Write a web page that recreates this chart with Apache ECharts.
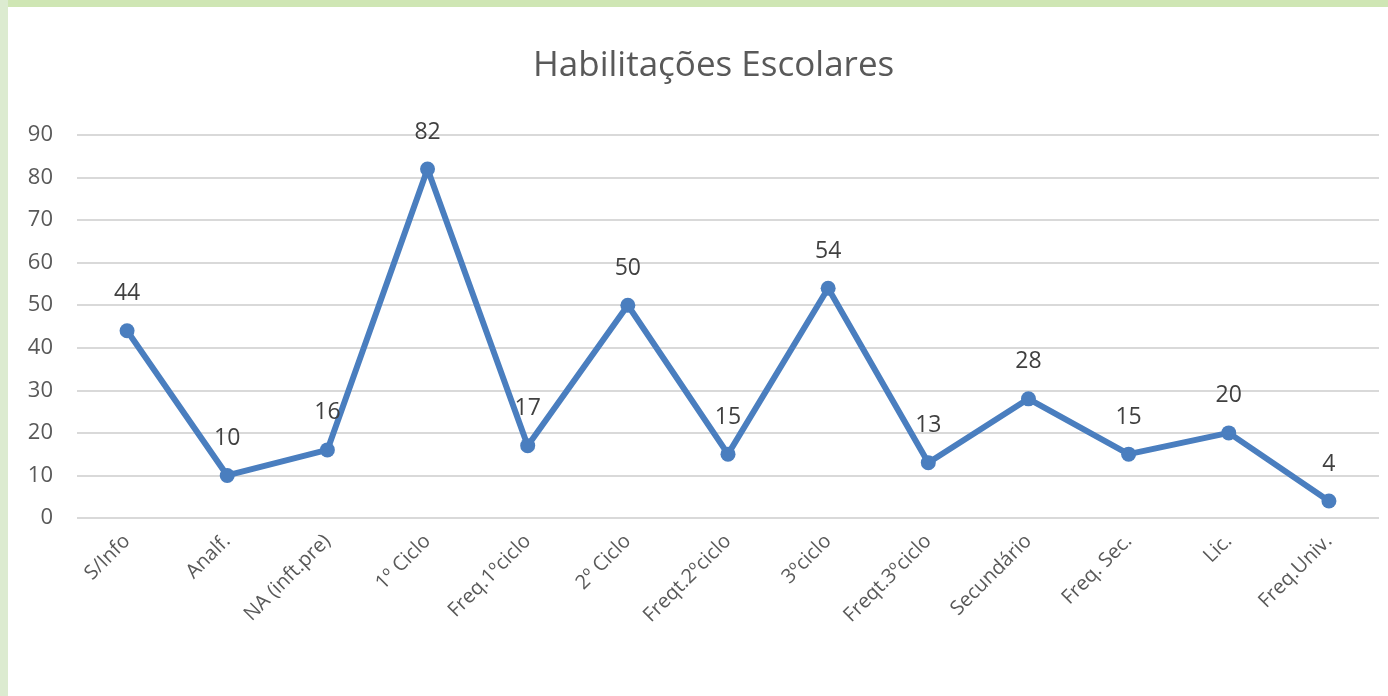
<!DOCTYPE html>
<html>
<head>
<meta charset="utf-8">
<script src="https://cdn.jsdelivr.net/npm/echarts@6/dist/echarts.min.js"></script>
<style>
  html, body { margin: 0; padding: 0; background: #fff; }
  #main { width: 1388px; height: 696px; }
</style>
</head>
<body>
<div id="main"></div>
<script>
// categorias e valores
var categorias = ['S/Info', 'Analf.', 'NA (inft.pre)', '1º Ciclo', 'Freq.1ºciclo', '2º Ciclo',
    'Freqt.2ºciclo', '3ºciclo', 'Freqt.3ºciclo', 'Secundário', 'Freq. Sec.', 'Lic.', 'Freq.Univ.'];
var valores = [44, 10, 16, 82, 17, 50, 15, 54, 13, 28, 15, 20, 4];
var yTicks = [0, 10, 20, 30, 40, 50, 60, 70, 80, 90];

var fonte = 'Open Sans';
var myChart = echarts.init(document.getElementById('main'));

var option = {
    backgroundColor: '#ffffff',
    // moldura verde do slide
    graphic: [
        { type: 'rect', left: 0, top: 0, shape: { width: 1388, height: 7 }, style: { fill: '#cfe6b4' }, silent: true },
        { type: 'rect', left: 0, top: 0, shape: { width: 8, height: 696 }, style: { fill: '#dcebd0' }, silent: true }
    ],
    title: {
        text: 'Habilitações Escolares',
        left: 528,
        top: 44,
        textStyle: { fontFamily: fonte, fontSize: 35, fontWeight: 'normal', color: '#595959' }
    },
    grid: { left: 77, right: 9, top: 135, bottom: 178, containLabel: false },
    xAxis: {
        type: 'category',
        data: categorias,
        boundaryGap: true,
        axisLine: { show: false },
        axisTick: { show: false },
        axisLabel: {
            rotate: 45,
            interval: 0,
            margin: 20,
            fontFamily: fonte,
            fontSize: 20,
            color: '#595959'
        }
    },
    yAxis: {
        type: 'value',
        min: yTicks[0],
        max: yTicks[yTicks.length - 1],
        interval: 10,
        axisLine: { show: false },
        axisTick: { show: false },
        splitLine: { lineStyle: { color: '#d9d9d9', width: 2 } },
        axisLabel: { margin: 24, fontFamily: fonte, fontSize: 22, color: '#595959' }
    },
    series: [{
        name: 'Habilitações Escolares',
        type: 'line',
        data: valores,
        symbol: 'circle',
        symbolSize: 15,
        lineStyle: { color: '#4a7ebf', width: 6 },
        itemStyle: { color: '#4a7ebf' },
        label: {
            show: true,
            position: 'top',
            distance: 18,
            fontFamily: fonte,
            fontSize: 23,
            color: '#404040'
        }
    }]
};

myChart.setOption(option);
</script>
</body>
</html>
